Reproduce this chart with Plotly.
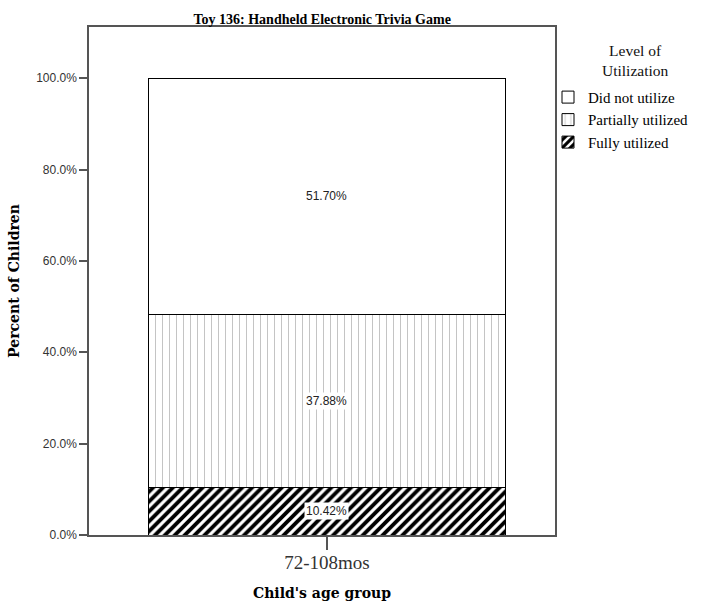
import plotly.graph_objects as go

categories = ["72-108mos"]
levels = ["Fully utilized", "Partially utilized", "Did not utilize"]
values = {"Fully utilized": [10.42], "Partially utilized": [37.88], "Did not utilize": [51.70]}
labels = {"Fully utilized": ["10.42%"], "Partially utilized": ["37.88%"], "Did not utilize": ["51.70%"]}
yticks = [0, 20, 40, 60, 80, 100]
ytick_text = ["0.0%", "20.0%", "40.0%", "60.0%", "80.0%", "100.0%"]

patterns = {
    "Fully utilized": dict(shape="/", fgcolor="black", bgcolor="white", size=7, solidity=0.55, fgopacity=1),
    "Partially utilized": dict(shape="|", fgcolor="#c4c4c4", bgcolor="white", size=7, solidity=0.15, fgopacity=1),
    "Did not utilize": dict(shape="", bgcolor="white"),
}

serif = "Liberation Serif, Times New Roman, serif"
wserif = "DejaVu Serif, serif"
sans = "Liberation Sans, Arial, sans-serif"

fig = go.Figure()
cum = [0.0] * len(categories)
for lv in levels:
    fig.add_trace(go.Bar(
        x=categories, y=values[lv], name=lv, width=0.764,
        marker=dict(color="white", line=dict(color="black", width=1), pattern=patterns[lv]),
        hoverinfo="skip",
    ))
    for i, c in enumerate(categories):
        fig.add_annotation(x=c, y=cum[i] + values[lv][i] / 2, text=labels[lv][i], showarrow=False,
                           font=dict(family=sans, size=12, color="#222"), bgcolor="white", borderpad=1)
        cum[i] += values[lv][i]

fig.add_annotation(xref="paper", yref="paper", x=1.1717, y=0.935, text="Level of<br>Utilization",
                   showarrow=False, xanchor="center", yanchor="middle", align="center",
                   font=dict(family=serif, size=15.5, color="#111"))

fig.update_layout(
    barmode="stack",
    width=705, height=601,
    margin=dict(l=89, r=150, t=27, b=66, autoexpand=False),
    paper_bgcolor="white", plot_bgcolor="white",
    title=dict(text="<b>Toy 136: Handheld Electronic Trivia Game</b>", x=0.457, xanchor="center",
               y=0.968, yanchor="middle", font=dict(family=serif, size=14, color="black")),
    legend=dict(
        traceorder="reversed", x=0.985, xanchor="left", y=0.894, yanchor="top",
        font=dict(family=serif, size=15, color="black"),
        tracegroupgap=0, bgcolor="rgba(0,0,0,0)",
    ),
    showlegend=True,
)
fig.update_xaxes(
    type="category", range=[-0.5107, 0.4893], automargin=False,
    showline=True, mirror=True, linecolor="#555", linewidth=1.5,
    ticks="outside", ticklen=13, tickwidth=1.5, tickcolor="#555", ticklabelstandoff=-4,
    tickfont=dict(family=serif, size=19, color="#333"),
    title=dict(text="<b>Child's age group</b>", font=dict(family=wserif, size=14, color="black"), standoff=17),
    showgrid=False,
)
fig.update_yaxes(
    range=[0, 111.2], tickvals=yticks, ticktext=ytick_text, automargin=False,
    showline=True, mirror=True, linecolor="#555", linewidth=1.5,
    ticks="outside", ticklen=8, tickwidth=1.5, tickcolor="#555",
    tickfont=dict(family=sans, size=12, color="#333"),
    title=dict(text="<b>Percent of Children</b>", font=dict(family=wserif, size=14, color="black"), standoff=13),
    showgrid=False, zeroline=False,
)

fig.write_html("out.html", config={"displayModeBar": False},
               post_script="document.body.style.margin='0';")
